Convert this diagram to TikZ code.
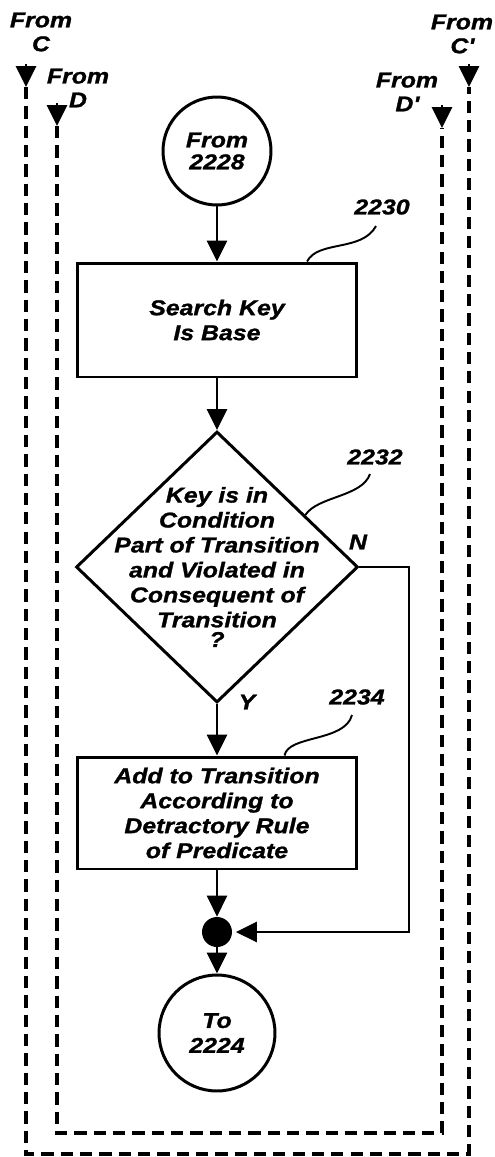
\documentclass[tikz,border=0pt]{standalone}
\usepackage{fontspec}
\setmainfont{Liberation Sans}[FakeStretch=1.16,BoldItalicFeatures={FakeBold=1.2}]
\usetikzlibrary{arrows.meta}
\usetikzlibrary{calc}
\usetikzlibrary{shapes.geometric}

\begin{document}
\begin{tikzpicture}[x=0.02cm,y=-0.02cm,
	txt/.style={font=\fontsize{12.2}{14.2}\selectfont\bfseries\itshape,align=center,inner sep=0pt},
	tag/.style={font=\fontsize{12.2}{13.6}\selectfont\bfseries\itshape,align=center,inner sep=0pt},
	proc/.style={txt,draw,line width=1.7pt,minimum width=5.57cm},
	term/.style={txt,draw,circle,line width=1.7pt},
	decide/.style={draw,diamond,line width=1.7pt,inner sep=0pt,minimum width=5.64cm,minimum height=5.42cm},
	flow/.style={line width=1.6pt,-{Triangle[length=0.42cm,width=0.4cm]}},
	lead/.style={line width=1.1pt},
	link/.style={line width=2pt,dash pattern=on 7pt off 4pt}]
	
	% Page
	\useasboundingbox (0,0) rectangle (494,1157);
	
	% Off-page entries
	\node[tag] (fromC) at (41,32) {From\\C};
	\node[tag] (fromD) at (78,88) {From\\D};
	\node[tag] (fromCp) at (462,34) {From\\C\textquotesingle};
	\node[tag] (fromDp) at (407,92) {From\\D\textquotesingle};
	
	\coordinate (inC) at (26,64);
	\coordinate (cC) at (26,87);
	\coordinate (inD) at (57,103);
	\coordinate (cD) at (57,126);
	\coordinate (inCp) at (469,64);
	\coordinate (cCp) at (469,87);
	\coordinate (inDp) at (442,105);
	\coordinate (cDp) at (442,128);
	
	\draw[flow] (inC) -- (cC);
	\draw[flow] (inD) -- (cD);
	\draw[flow] (inCp) -- (cCp);
	\draw[flow] (inDp) -- (cDp);
	
	% Dashed returns
	\draw[link] (cC) -- (26,1154) -- (469,1154) -- (cCp);
	\draw[link] (cD) -- (57,1133) -- (442,1133) -- (cDp);
	
	% Flow chart
	\node[term,minimum size=2.16cm] (start) at (217,151) {From\\[-1.7pt]2228};
	\node[proc,minimum height=2.28cm] (base) at (217,320) {Search Key\\Is Base};
	\node[decide] (key) at (217,567) {};
	\node[txt] (keytext) at (key.center) {Key is in\\Condition\\Part of Transition\\and Violated in\\Consequent of\\Transition\\[-3pt]?};
	\node[proc,minimum height=2.24cm] (add) at (217,813) {Add to Transition\\According to\\Detractory Rule\\of Predicate};
	\node[circle,fill,minimum size=0.6cm,inner sep=0pt] (join) at (217,932) {};
	\node[term,minimum size=2.32cm] (stop) at (217,1033) {To\\2224};
	
	\draw[flow] (start) -- (base);
	\draw[flow] (base) -- (key.north);
	\draw[flow] (key.south) -- (add);
	\draw[flow] (add) -- (join);
	\draw[flow] (join) -- (stop);
	
	% No branch
	\coordinate (nturn) at (409,567);
	\draw[flow,shorten >=2pt] (key.east) -- (nturn) |- (join.east);
	\node[txt] (no) at (358,542) {N};
	\node[txt] (yes) at (247,702) {Y};
	
	% Reference numerals
	\node[txt] (n2230) at (382,207) {2230};
	\coordinate (t2230) at (376,226);
	\draw[lead] (t2230) .. controls (362,252) and (318,240) .. ($(base.north west)!0.82!(base.north east)$);
	
	\node[txt] (n2232) at (375,457) {2232};
	\coordinate (t2232) at (370,474);
	\draw[lead] (t2232) .. controls (362,497) and (318,496) .. ($(key.north)!0.62!(key.east)$);
	
	\node[txt] (n2234) at (357,697) {2234};
	\coordinate (t2234) at (352,715);
	\draw[lead] (t2234) .. controls (345,742) and (288,735) .. ($(add.north west)!0.74!(add.north east)$);
	
\end{tikzpicture}
\end{document}
